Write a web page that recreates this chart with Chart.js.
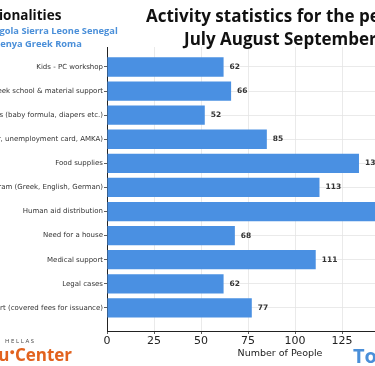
<!DOCTYPE html>
<html>
<head>
<meta charset="utf-8">
<script src="https://cdn.jsdelivr.net/npm/chart.js@4"></script>
<style>
  html, body { margin: 0; padding: 0; background: #fff; }
  #page { position: relative; width: 375px; height: 366px; overflow: hidden; font-family: "Open Sans", sans-serif; }
  #chartBox { position: absolute; left: -200px; top: 0; width: 683px; height: 366px; }
  .txt { position: absolute; white-space: nowrap; font-weight: bold; }
  .title { font-size: 17px; color: #111; }
  .nat { font-size: 13.5px; color: #111; }
  .natList { font-size: 9.3px; color: #4a8fd9; }
  .hellas { font-size: 6px; letter-spacing: 1.6px; color: #444; font-weight: normal; }
  .edu { font-size: 17px; color: #e2621e; }
  .to { font-size: 20px; color: #4a8fd9; }
</style>
</head>
<body>
<div id="page">
  <div id="chartBox"><canvas id="activityChart"></canvas></div>

  <div class="txt nat" style="left:-26px; top:6px;">Nationalities</div>
  <div class="txt natList" style="left:-13px; top:24px;">Angola Sierra Leone Senegal</div>
  <div class="txt natList" style="left:-6px; top:37px;">Kenya Greek Roma</div>

  <div class="txt title" style="left:146px; top:4px;">Activity statistics for the period</div>
  <div class="txt title" style="left:184px; top:27px;">July August September</div>

  <div class="txt hellas" style="left:5px; top:337px;">HELLAS</div>
  <div class="txt edu" style="left:-22px; top:343px;">Edu<span style="font-size:9px; vertical-align:6px;">&#9679;</span>Center</div>
  <div class="txt to" style="left:353px; top:342px;">Total</div>
</div>

<script>
// Activities (y axis)
const activities = [
    "Kids - PC workshop",
    "Greek school & material support",
    "Supplies for toddlers (baby formula, diapers etc.)",
    "Paperwork (tax number, unemployment card, AMKA)",
    "Food supplies",
    "Language program (Greek, English, German)",
    "Human aid distribution",
    "Need for a house",
    "Medical support",
    "Legal cases",
    "Document support (covered fees for issuance)"
];

// Number of people per activity
const people = [62, 66, 52, 85, 134, 113, 165, 68, 111, 62, 77];

// x tick step
const xStep = 25;

const ctx = document.getElementById('activityChart').getContext('2d');

// draws the number at the end of each bar
const valueLabels = {
    id: 'valueLabels',
    afterDatasetsDraw(chart) {
        const c = chart.ctx;
        const meta = chart.getDatasetMeta(0);
        c.save();
        c.font = 'bold 7.5px "DejaVu Sans"';
        c.fillStyle = '#333';
        c.textBaseline = 'middle';
        meta.data.forEach((bar, i) => {
            c.fillText(people[i], bar.x + 6, bar.y);
        });
        c.restore();
    }
};

new Chart(ctx, {
    type: 'bar',
    data: {
        datasets: [{
            data: people.map((v, i) => ({ x: v, y: i })),
            backgroundColor: '#4a90e2',
            borderWidth: 0,
            barPercentage: 0.8,
            categoryPercentage: 1
        }]
    },
    options: {
        indexAxis: 'y',
        responsive: true,
        maintainAspectRatio: false,
        animation: false,
        layout: { padding: { top: 47, right: 30, bottom: 0, left: 0 } },
        plugins: {
            legend: { display: false },
            tooltip: { enabled: false }
        },
        scales: {
            x: {
                type: 'linear',
                min: 0,
                max: 184,
                ticks: {
                    stepSize: xStep,
                    color: '#222',
                    font: { family: 'DejaVu Sans', size: 11 },
                    padding: 1
                },
                grid: { color: '#e4e4e4', lineWidth: 0.8, tickColor: '#333', tickLength: 3 },
                border: { color: '#222', width: 1 },
                title: {
                    display: true,
                    text: 'Number of People',
                    color: '#222',
                    font: { family: 'DejaVu Sans', size: 9.5 },
                    padding: { top: 2, bottom: 7 }
                },
                afterFit(scale) { scale.height = 35; }
            },
            y: {
                type: 'linear',
                reverse: true,
                offset: false,
                min: -0.83,
                max: 10.96,
                afterBuildTicks(scale) {
                    scale.ticks = activities.map((_, i) => ({ value: i }));
                },
                ticks: {
                    autoSkip: false,
                    color: '#333',
                    font: { family: 'DejaVu Sans', size: 7 },
                    padding: 1,
                    callback: (v) => activities[v]
                },
                grid: { offset: false, color: '#e4e4e4', lineWidth: 0.8, tickColor: '#333', tickLength: 3 },
                border: { color: '#222', width: 1 },
                afterFit(scale) { scale.width = 307; }
            }
        }
    },
    plugins: [valueLabels]
});
</script>
</body>
</html>
